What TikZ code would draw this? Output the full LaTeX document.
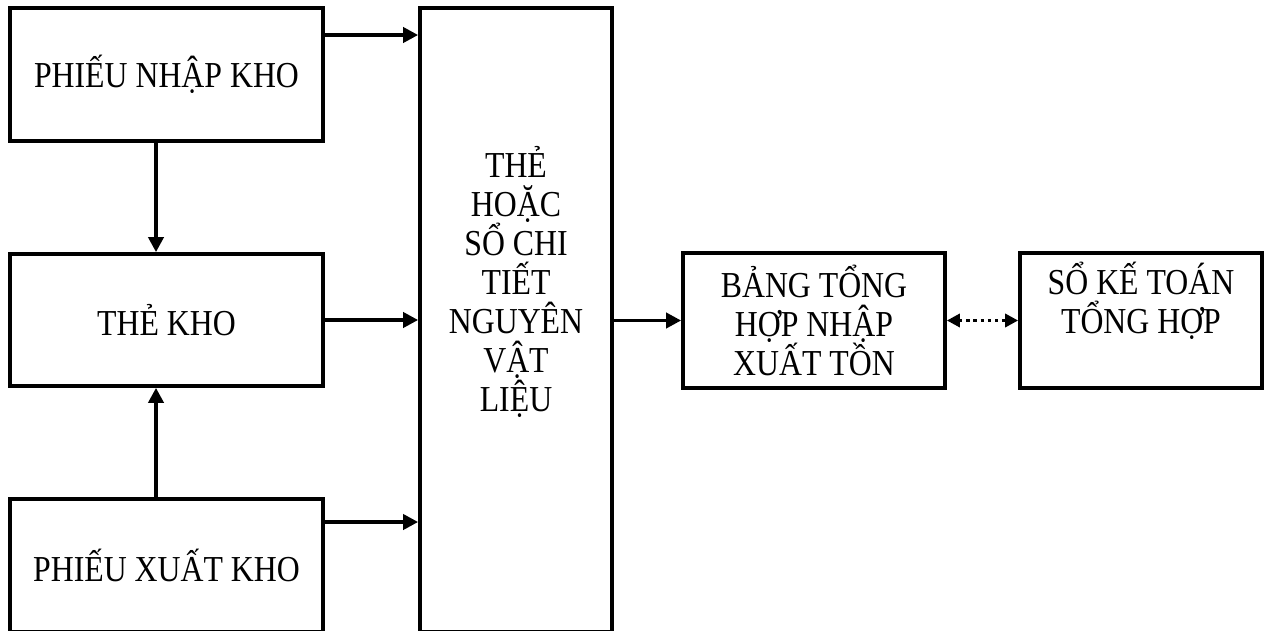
\documentclass[tikz,border=0pt]{standalone}
\usepackage{fontspec}
\setmainfont{Liberation Serif}[FakeStretch=0.87]
\usetikzlibrary{arrows.meta}
\def\px{0.02cm}
\tikzset{
  hop/.style={draw, line width=2.1pt, inner sep=0pt, align=center},
  muiten/.style={-{Triangle[length=0.3cm,width=0.3cm]}, line width=2.1pt},
  chamhai/.style={{Triangle[length=0.26cm,width=0.26cm]}-{Triangle[length=0.26cm,width=0.26cm]}, line width=1.9pt, dash pattern=on 1.9pt off 2.2pt}
}
\begin{document}
\begin{tikzpicture}[x=\px, y=-\px, font=\fontsize{20.8}{22.2}\selectfont]
\useasboundingbox (0,0) rectangle (1267,631);
\node[hop, minimum width=313*\px, minimum height=133*\px] (pnk) at (166.5,74.5) {PHIẾU NHẬP KHO};
\node[hop, minimum width=313*\px, minimum height=132*\px] (tk) at (166.5,320) {THẺ KHO};
\node[hop, minimum width=313*\px, minimum height=133*\px] (pxk) at (166.5,565.5) {PHIẾU XUẤT KHO};
\node[hop, minimum width=192*\px, minimum height=624*\px] (ctvl) at (516,320) {};
\node[align=center] (ctvlchu) at (516,282) {THẺ\\HOẶC\\SỔ CHI\\TIẾT\\NGUYÊN\\VẬT\\LIỆU};
\node[hop, minimum width=262*\px, minimum height=135*\px] (bth) at (814,320.5) {BẢNG TỔNG\\HỢP NHẬP\\XUẤT TỒN};
\node[hop, minimum width=242*\px, minimum height=135*\px] (skt) at (1141,320.5) {};
\node[align=center] (sktchu) at (1141,301) {SỔ KẾ TOÁN\\TỔNG HỢP};
\coordinate (ra1) at ([yshift=0.79cm]pnk.east);
\coordinate (ra3) at ([yshift=0.87cm]pxk.east);
\draw[muiten] (ra1) -- (ra1 -| ctvl.west);
\draw[muiten] (tk.east) -- (tk.east -| ctvl.west);
\draw[muiten] (ra3) -- (ra3 -| ctvl.west);
\draw[muiten] ([xshift=-0.21cm]pnk.south) -- ([xshift=-0.21cm]tk.north);
\draw[muiten] ([xshift=-0.21cm]pxk.north) -- ([xshift=-0.21cm]tk.south);
\draw[muiten] (bth.west -| ctvl.east) -- (bth.west);
\draw[chamhai] (bth.east) -- (skt.west);
\end{tikzpicture}
\end{document}
